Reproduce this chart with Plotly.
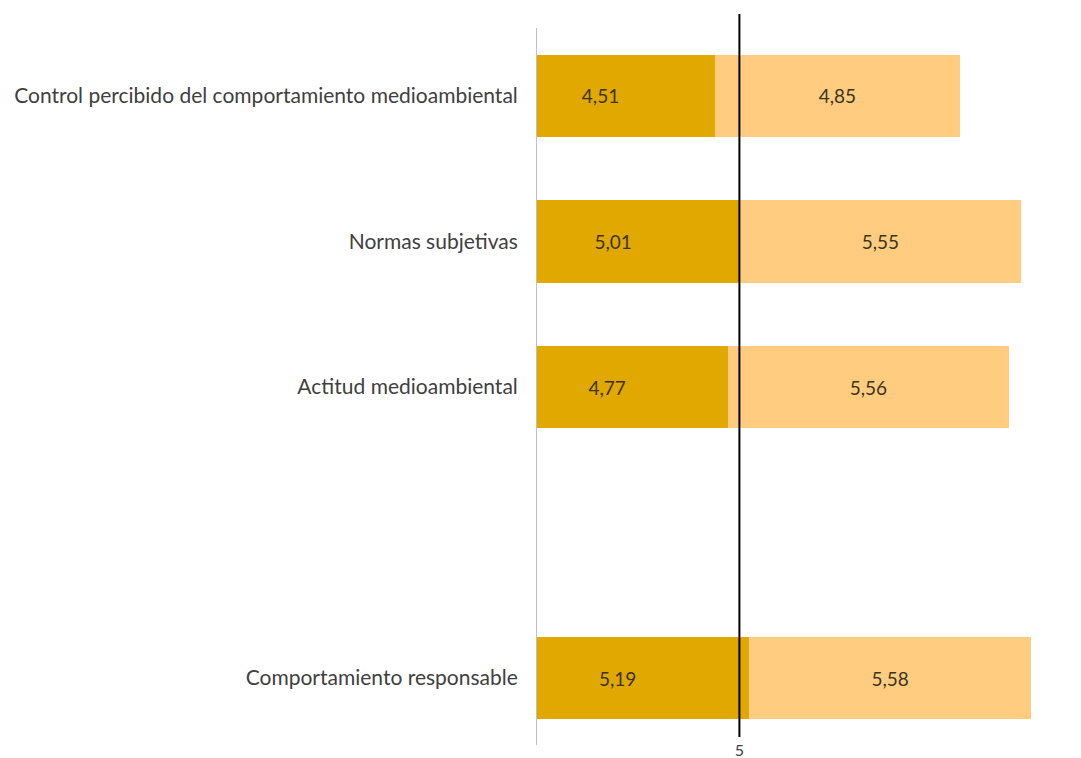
import plotly.graph_objects as go

categories = ["Control percibido del comportamiento medioambiental",
              "Normas subjetivas",
              "Actitud medioambiental",
              "Comportamiento responsable"]
cat_pos = [4, 3, 2, 0]
serie_a = [4.51, 5.01, 4.77, 5.19]
serie_b = [4.85, 5.55, 5.56, 5.58]
ref_value = 5
x_ticks = [5]

def fmt(v):
    return f"{v:.2f}".replace(".", ",")

FONT = "Lato"
fig = go.Figure()
fig.add_trace(go.Bar(
    y=cat_pos, x=serie_a, orientation="h", width=0.564,
    marker=dict(color="#E0A800", line=dict(width=0)),
    text=[fmt(v) for v in serie_a], textposition="inside",
    insidetextanchor="middle",
    textfont=dict(family=FONT, size=19, color="#3d3420"),
    hoverinfo="skip", showlegend=False))
fig.add_trace(go.Bar(
    y=cat_pos, x=serie_b, orientation="h", width=0.564,
    marker=dict(color="#FFCC80", line=dict(width=0)),
    text=[fmt(v) for v in serie_b], textposition="inside",
    insidetextanchor="middle",
    textfont=dict(family=FONT, size=19, color="#3d3420"),
    hoverinfo="skip", showlegend=False))

fig.add_shape(type="line", xref="x", yref="paper",
              x0=ref_value, x1=ref_value, y0=0.011, y1=1.0195,
              line=dict(color="black", width=2))

fig.update_layout(
    barmode="stack",
    width=1081, height=758,
    margin=dict(l=537, r=38, t=28, b=13),
    paper_bgcolor="white", plot_bgcolor="white",
    font=dict(family=FONT, size=19, color="#404040"),
    xaxis=dict(range=[1, 11], tickvals=x_ticks, ticktext=[str(v) for v in x_ticks],
               showgrid=False, zeroline=False, showline=False, ticks="",
               automargin=False, ticklabelstandoff=-6,
               tickfont=dict(family=FONT, size=16, color="#404040")),
    yaxis=dict(range=[-0.46, 4.467], tickvals=cat_pos, ticktext=categories,
               showgrid=False, zeroline=False, showline=True,
               linecolor="#BFBFBF", linewidth=1, ticks="",
               automargin=False,
               ticklabelstandoff=14,
               tickfont=dict(family=FONT, size=21, color="#404040")),
)
fig.write_html("out.html")
